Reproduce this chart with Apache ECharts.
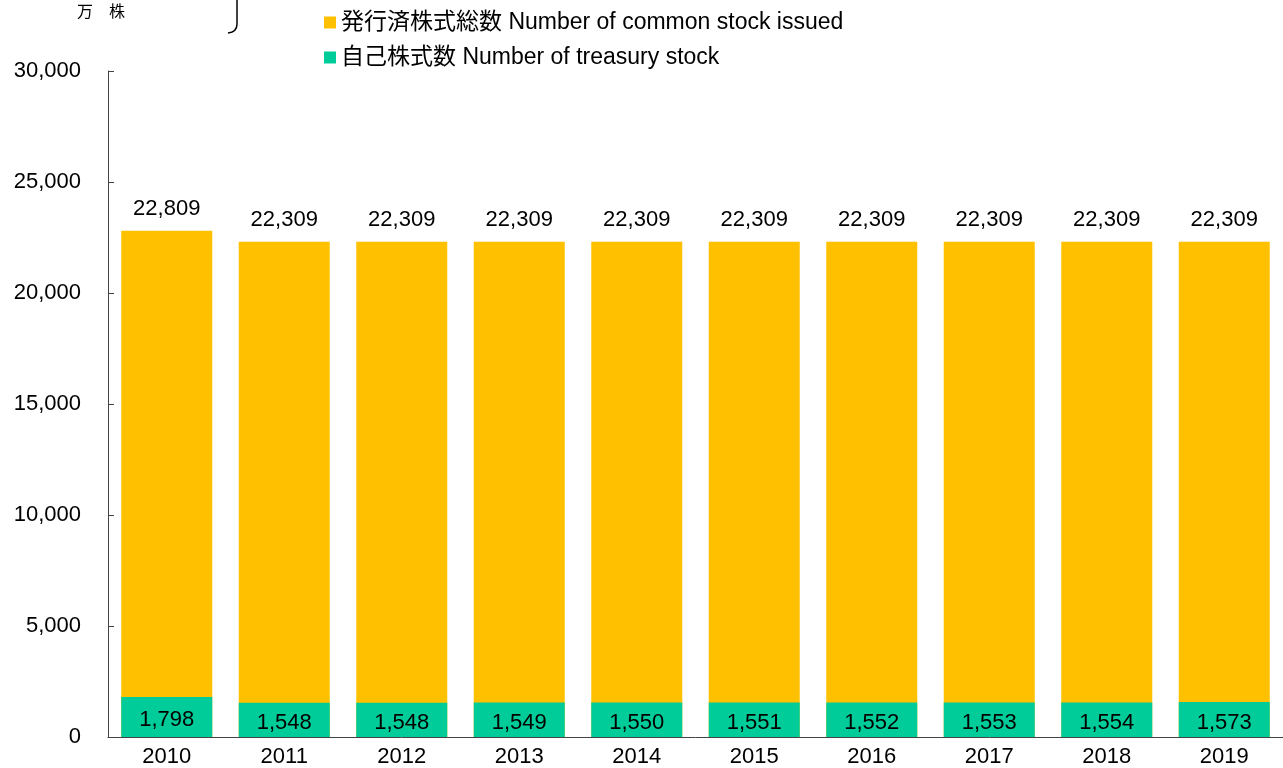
<!DOCTYPE html>
<html>
<head>
<meta charset="utf-8">
<script src="https://cdn.jsdelivr.net/npm/echarts@6/dist/echarts.min.js"></script>
<style>
  html, body { margin: 0; padding: 0; background: #fff; }
  #chart { width: 1283px; height: 768px; }
</style>
</head>
<body>
<div id="chart"></div>
<script>
// data
var years = ["2010", "2011", "2012", "2013", "2014", "2015", "2016", "2017", "2018", "2019"];
var issued = [22809, 22309, 22309, 22309, 22309, 22309, 22309, 22309, 22309, 22309];
var treasury = [1798, 1548, 1548, 1549, 1550, 1551, 1552, 1553, 1554, 1573];
var seriesNames = ["発行済株式総数 Number of common stock issued", "自己株式数 Number of treasury stock"];
var unitText = "万\u3000株";

var font = "'Liberation Sans', Arial, 'Noto Sans CJK JP', sans-serif";

function fmt(v) {
  return String(v).replace(/\B(?=(\d{3})+(?!\d))/g, ",");
}

var myChart = echarts.init(document.getElementById("chart"));
var option = {
  animation: false,
  textStyle: { fontFamily: font },
  grid: { left: 108, right: -5, top: 71, bottom: 27 },
  legend: {
    orient: "vertical",
    left: 319,
    top: 6,
    icon: "rect",
    itemWidth: 12,
    itemHeight: 12,
    itemGap: 12,
    textStyle: { color: "#000", fontSize: 23, fontFamily: font },
    data: seriesNames,
  },
  graphic: [
    {
      type: "text",
      left: 77,
      top: 5,
      style: { text: unitText, fontSize: 16, fill: "#000", fontFamily: font },
    },
    {
      // bracket decoration at top
      type: "polyline",
      shape: { points: [[237, 0], [237, 24]] },
      style: { stroke: "#000", lineWidth: 1.5, fill: null },
    },
    {
      type: "bezierCurve",
      shape: { x1: 237, y1: 24, x2: 228, y2: 33, cpx1: 237, cpy1: 32 },
      style: { stroke: "#000", lineWidth: 1.5, fill: null },
    },
  ],
  xAxis: {
    type: "category",
    data: years,
    axisLine: { lineStyle: { color: "#444" } },
    axisTick: { inside: true, length: 6, lineStyle: { color: "#444" } },
    axisLabel: { color: "#000", fontSize: 22, margin: 9, fontFamily: font },
  },
  yAxis: {
    type: "value",
    min: 0,
    max: 30000,
    interval: 5000,
    axisLine: { show: true, lineStyle: { color: "#444" } },
    axisTick: { show: true, inside: true, length: 6, lineStyle: { color: "#444" } },
    splitLine: { show: false },
    axisLabel: {
      color: "#000",
      fontSize: 22,
      margin: 27,
      fontFamily: font,
      formatter: function (v) { return fmt(v); },
    },
  },
  series: [
    {
      name: seriesNames[0],
      type: "bar",
      data: issued,
      barWidth: 91,
      barGap: "-100%",
      itemStyle: { color: "#FFC000" },
      label: {
        show: true,
        position: "top",
        distance: 11,
        color: "#000",
        fontSize: 22,
        fontFamily: font,
        formatter: function (p) { return fmt(p.value); },
      },
    },
    {
      name: seriesNames[1],
      type: "bar",
      data: treasury,
      barWidth: 91,
      barGap: "-100%",
      itemStyle: { color: "#00CC99" },
      label: {
        show: true,
        position: "inside",
        offset: [0, 3],
        color: "#000",
        fontSize: 22,
        fontFamily: font,
        formatter: function (p) { return fmt(p.value); },
      },
    },
  ],
};
option && myChart.setOption(option);
</script>
</body>
</html>
